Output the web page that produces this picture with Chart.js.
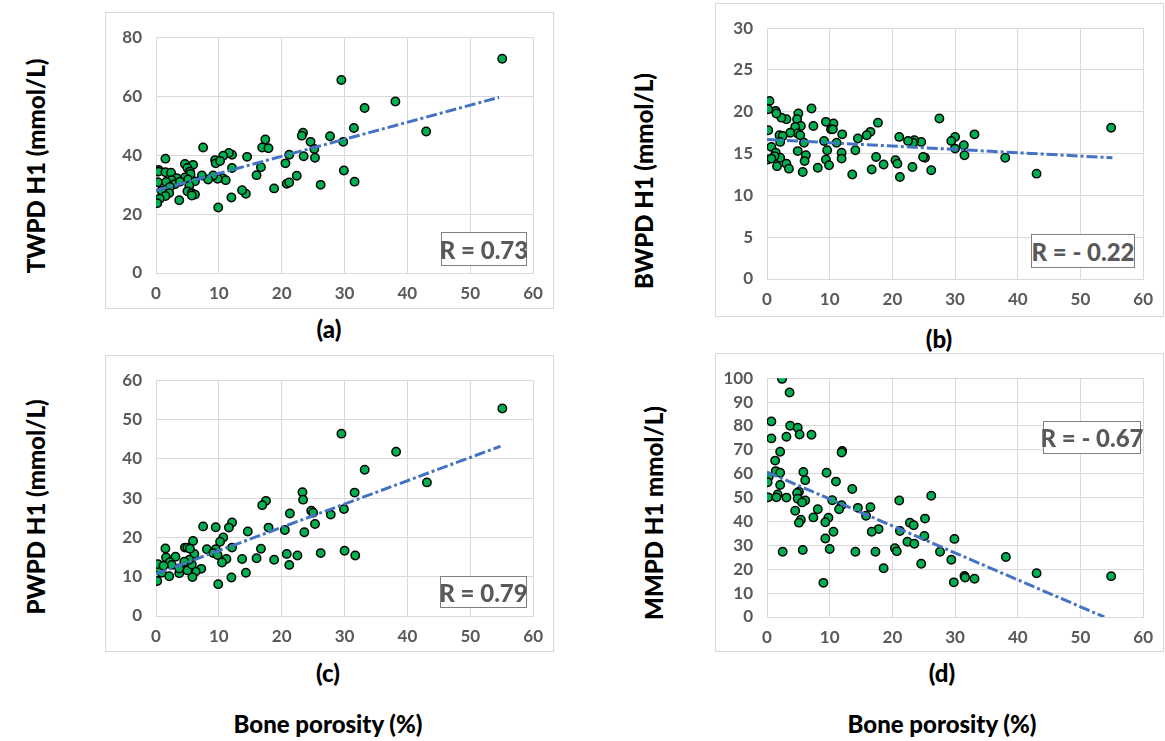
<!DOCTYPE html>
<html>
<head>
<meta charset="utf-8">
<script src="https://cdn.jsdelivr.net/npm/chart.js@4.4.1/dist/chart.umd.min.js"></script>
<style>
  body { margin: 0; background: #fff; width: 1165px; height: 741px; position: relative; overflow: hidden; font-family: Lato, sans-serif; }
  .box { position: absolute; border: 1px solid #d9d9d9; box-sizing: border-box; }
  .box canvas { position: absolute; left: 0; top: 0; }
  .ytitle { position: absolute; font-weight: 900; font-size: 24px; white-space: nowrap; color: #000; transform: translate(-50%, -50%) rotate(-90deg); }
  .lbl { position: absolute; font-weight: 900; font-size: 24px; white-space: nowrap; color: #000; transform: translate(-50%, -50%); }
  .rbox { position: absolute; border: 1.5px solid #7f7f7f; box-sizing: border-box; background: #fff; color: #595959; font-weight: 900; font-size: 24px; white-space: nowrap; display: flex; align-items: center; justify-content: center; }
</style>
</head>
<body>

<div class="ytitle" style="left:35px;top:166px">TWPD H1 (mmol/L)</div>
<div class="ytitle" style="left:643px;top:181px">BWPD H1 (mmol/L)</div>
<div class="ytitle" style="left:35px;top:507px">PWPD H1 (mmol/L)</div>
<div class="ytitle" style="left:653px;top:513px">MMPD H1 mmol/L)</div>

<div class="lbl" style="left:329px;top:328px">(a)</div>
<div class="lbl" style="left:939px;top:338px">(b)</div>
<div class="lbl" style="left:328px;top:672px">(c)</div>
<div class="lbl" style="left:942px;top:672px">(d)</div>
<div class="lbl" style="left:328px;top:723px">Bone porosity (%)</div>
<div class="lbl" style="left:942px;top:723px">Bone porosity (%)</div>

<script>
// (a) TWPD vs porosity
const porosityA = [55.1, 29.5, 38.1, 33.2, 43.0, 31.5, 27.7, 23.4, 23.2, 24.6, 25.2, 29.8, 25.3, 23.5, 21.2, 20.6, 29.9, 31.6, 26.2, 22.4,
  20.8, 21.2, 18.8, 17.4, 16.9, 17.9, 16.7, 16.0, 14.5, 14.3, 13.7, 12.0, 12.1, 11.6, 10.7, 9.4, 9.5, 10.2, 12.1, 10.6,
  11.1, 9.8, 9.9, 9.1, 8.3, 7.5, 7.3, 5.9, 4.6, 5.0, 5.4, 5.5, 4.6, 5.1, 6.2, 5.3, 5.0, 5.7, 6.2, 5.7,
  3.7, 1.5, 0.4, 0.4, 1.5, 2.4, 3.3, 2.5, 1.6, 0.3, 3.0, 2.2, 0.9, 2.1, 1.5, 0.6, 0.2, 3.8];
const twpd = [72.7, 65.5, 58.2, 56.0, 48.0, 49.2, 46.4, 47.6, 46.6, 44.5, 42.1, 44.5, 39.1, 39.6, 40.1, 37.2, 34.8, 31.0, 29.9, 33.0,
  30.3, 30.7, 28.7, 45.3, 42.6, 42.3, 35.9, 33.2, 39.4, 26.9, 28.1, 25.6, 40.1, 40.7, 39.8, 38.3, 37.2, 38.0, 35.6, 32.2,
  31.5, 32.0, 22.2, 33.1, 31.7, 42.6, 33.1, 36.7, 37.0, 35.6, 34.4, 33.6, 32.4, 31.7, 31.1, 29.6, 27.7, 27.1, 26.6, 26.3,
  24.7, 38.8, 35.0, 34.4, 34.2, 34.0, 32.2, 31.5, 30.9, 30.8, 30.1, 29.2, 27.9, 27.1, 26.1, 25.2, 23.7, 31.0];
const trendA = [[0, 28.0], [54.6, 59.6]];

// (b) BWPD vs porosity
const porosityB = [54.9, 43.0, 38.0, 33.1, 31.4, 31.5, 30.0, 29.4, 30.0, 27.5, 26.2, 25.2, 24.9, 24.6, 23.5, 23.3, 22.5, 23.2, 21.1, 21.2,
  20.5, 20.8, 18.6, 17.7, 16.5, 15.9, 14.5, 14.1, 17.4, 16.7, 13.6, 12.0, 11.9, 11.9, 10.6, 9.4, 10.2, 10.5, 11.1, 9.6,
  9.1, 9.4, 9.9, 8.1, 7.1, 7.4, 6.2, 6.0, 5.7, 5.0, 4.8, 5.4, 4.5, 4.9, 5.3, 5.9, 4.9, 3.7, 3.1, 2.3,
  1.4, 1.5, 0.4, 0.2, 0.2, 2.0, 2.5, 2.1, 0.7, 1.4, 2.1, 1.2, 0.1, 0.7, 1.6, 3.1, 3.5];
const bwpd = [18.1, 12.6, 14.5, 17.3, 16.0, 14.8, 17.0, 16.5, 15.6, 19.2, 13.0, 14.5, 14.6, 16.4, 16.6, 16.3, 16.5, 13.4, 17.0, 12.2,
  14.2, 13.8, 13.7, 18.7, 17.6, 17.2, 16.8, 15.4, 14.6, 13.1, 12.5, 17.3, 15.1, 14.4, 18.6, 18.8, 17.9, 17.9, 16.3, 15.4,
  16.5, 14.3, 13.6, 13.3, 20.4, 18.3, 14.8, 14.1, 12.8, 19.8, 19.1, 18.3, 18.2, 17.4, 17.2, 16.3, 15.3, 17.5, 19.1, 19.3,
  20.1, 19.8, 21.3, 20.3, 17.8, 17.2, 17.1, 16.4, 15.8, 15.1, 14.5, 14.7, 14.3, 14.4, 13.5, 13.8, 13.2];
const trendB = [[0, 16.7], [55.1, 14.5]];

// (c) PWPD vs porosity
const porosityC = [55.1, 29.5, 38.2, 33.2, 43.1, 31.6, 23.3, 23.4, 17.5, 16.9, 24.7, 25.0, 29.9, 27.8, 21.3, 25.3, 23.6, 20.5, 17.9, 14.6,
  12.1, 11.6, 9.5, 7.5, 10.7, 10.2, 5.9, 6.1, 4.6, 5.0, 5.4, 1.5, 8.1, 9.5, 9.1, 9.8, 12.1, 16.7, 16.0, 13.7,
  11.2, 10.5, 18.8, 20.8, 21.2, 22.5, 26.2, 30.0, 31.7, 14.3, 12.0, 9.9, 7.2, 6.3, 5.8, 5.2, 5.0, 5.7, 5.3, 3.1,
  1.6, 2.2, 2.5, 3.7, 2.1, 0.9, 0.4, 0.3, 1.2, 0.2, 3.7, 4.5];
const pwpd = [52.8, 46.4, 41.8, 37.2, 34.0, 31.4, 31.5, 29.6, 29.3, 28.2, 26.8, 26.3, 27.2, 25.8, 26.1, 23.4, 21.3, 21.9, 22.5, 21.5,
  23.8, 22.5, 22.6, 22.8, 20.0, 18.9, 19.1, 15.8, 17.4, 17.4, 17.1, 17.2, 17.0, 17.0, 16.0, 15.5, 17.4, 17.1, 14.7, 14.5,
  14.5, 13.6, 14.3, 15.8, 13.0, 15.4, 16.0, 16.6, 15.4, 11.0, 9.8, 8.1, 12.0, 11.3, 9.9, 12.0, 11.6, 13.1, 14.3, 15.1,
  14.9, 13.7, 13.0, 10.9, 10.1, 11.0, 12.1, 13.2, 12.8, 8.9, 12.1, 13.8];
const trendC = [[0, 10.7], [54.8, 43.2]];

// (d) MMPD vs porosity
const porosityD = [2.4, 3.6, 0.7, 3.7, 4.9, 5.2, 7.1, 0.7, 3.1, 2.1, 12.0, 11.9, 1.3, 1.4, 2.1, 5.8, 9.5, 0.3, 0.1, 2.1,
  6.1, 11.0, 13.6, 5.1, 4.8, 1.7, 0.2, 1.5, 3.1, 4.9, 6.1, 5.6, 10.4, 21.1, 26.2, 11.9, 11.5, 14.5, 16.5, 8.1,
  4.5, 15.8, 7.4, 9.8, 5.4, 5.1, 9.3, 25.2, 22.8, 23.4, 17.8, 16.7, 10.6, 21.2, 25.1, 29.9, 9.3, 22.4, 23.5, 20.4,
  20.7, 14.1, 17.3, 27.6, 2.5, 5.7, 10.0, 38.1, 29.4, 24.6, 18.6, 43.0, 54.9, 31.5, 31.6, 33.1, 29.8, 9.0];
const mmpd = [99.7, 94.0, 81.9, 80.1, 79.3, 76.4, 76.3, 74.8, 75.5, 69.2, 69.5, 68.9, 65.5, 61.1, 60.4, 60.7, 60.4, 58.8, 56.4, 55.3,
  57.3, 56.7, 53.6, 52.5, 51.9, 51.3, 50.1, 50.1, 50.0, 49.5, 48.8, 48.0, 48.9, 48.8, 50.8, 46.8, 45.1, 45.7, 46.0, 45.1,
  44.5, 42.4, 41.7, 41.6, 40.7, 39.5, 39.7, 41.2, 39.5, 38.4, 36.8, 35.7, 35.7, 36.0, 33.9, 32.7, 32.9, 31.5, 30.7, 28.8,
  27.5, 27.3, 27.3, 27.3, 27.3, 28.1, 28.5, 25.1, 24.0, 22.3, 20.4, 18.3, 17.1, 17.2, 16.5, 16.0, 14.5, 14.3];
const trendD = [[0, 60.7], [53.8, 0]];

const xTicks = [0, 10, 20, 30, 40, 50, 60];

function toPoints(xs, ys) {
  return xs.map((x, i) => ({ x: x, y: ys[i] }));
}

function makePanel(p) {
  const box = document.createElement('div');
  box.className = 'box';
  box.style.left = p.box.l + 'px';
  box.style.top = p.box.t + 'px';
  box.style.width = (p.box.r - p.box.l) + 'px';
  box.style.height = (p.box.b - p.box.t) + 'px';
  const canvas = document.createElement('canvas');
  const cw = p.box.r - p.box.l - 2;
  const ch = p.box.b - p.box.t - 2;
  canvas.width = cw;
  canvas.height = ch;
  canvas.style.width = cw + 'px';
  canvas.style.height = ch + 'px';
  box.appendChild(canvas);
  document.body.appendChild(box);

  const yAxisW = p.plot.l - (p.box.l + 1);
  const xAxisH = (p.box.b - 1) - p.plot.b;
  const tickFont = { family: 'Lato', weight: 'bold', size: 17 };

  new Chart(canvas, {
    type: 'scatter',
    data: {
      datasets: [
        {
          data: p.trend.map(t => ({ x: t[0], y: t[1] })),
          showLine: true,
          borderColor: '#4472C4',
          borderWidth: 3,
          borderDash: [11, 3, 3, 3],
          pointRadius: 0,
          fill: false
        },
        {
          data: toPoints(p.xs, p.ys),
          backgroundColor: '#00B050',
          borderColor: '#000000',
          borderWidth: 1.5,
          pointRadius: 4.2
        }
      ]
    },
    options: {
      responsive: false,
      animation: false,
      devicePixelRatio: 1,
      layout: {
        padding: { left: 0, top: p.plot.t - (p.box.t + 1), right: (p.box.r - 1) - p.plot.r, bottom: 0 }
      },
      plugins: { legend: { display: false }, tooltip: { enabled: false } },
      scales: {
        x: {
          type: 'linear',
          min: 0,
          max: 60,
          afterFit(s) { s.height = xAxisH; },
          afterBuildTicks(s) { s.ticks = xTicks.map(v => ({ value: v })); },
          grid: { color: '#d9d9d9', drawTicks: false },
          border: { color: '#d9d9d9' },
          ticks: { font: tickFont, color: '#595959', padding: 10, maxRotation: 0 }
        },
        y: {
          type: 'linear',
          min: 0,
          max: p.ymax,
          afterFit(s) { s.width = yAxisW; },
          afterBuildTicks(s) { s.ticks = p.yTicks.map(v => ({ value: v })); },
          grid: { color: '#d9d9d9', drawTicks: false },
          border: { color: '#d9d9d9' },
          ticks: { font: tickFont, color: '#595959', padding: 14 }
        }
      }
    }
  });

  const r = document.createElement('div');
  r.className = 'rbox';
  r.style.left = p.rbox.l + 'px';
  r.style.top = p.rbox.t + 'px';
  r.style.width = (p.rbox.r - p.rbox.l) + 'px';
  r.style.height = (p.rbox.b - p.rbox.t) + 'px';
  r.textContent = p.rText;
  document.body.appendChild(r);
}

makePanel({
  box: { l: 105, t: 12, r: 554, b: 309 }, plot: { l: 156, t: 25, r: 533, b: 273 },
  ymax: 80, yTicks: [0, 20, 40, 60, 80], xs: porosityA, ys: twpd, trend: trendA,
  rbox: { l: 441, t: 232, r: 527, b: 266 }, rText: 'R = 0.73'
});
makePanel({
  box: { l: 715, t: 3, r: 1164, b: 317 }, plot: { l: 767, t: 16, r: 1144, b: 279 },
  ymax: 30, yTicks: [0, 5, 10, 15, 20, 25, 30], xs: porosityB, ys: bwpd, trend: trendB,
  rbox: { l: 1031, t: 234, r: 1135, b: 268 }, rText: 'R = - 0.22'
});
makePanel({
  box: { l: 105, t: 355, r: 554, b: 652 }, plot: { l: 156, t: 368, r: 534, b: 616 },
  ymax: 60, yTicks: [0, 10, 20, 30, 40, 50, 60], xs: porosityC, ys: pwpd, trend: trendC,
  rbox: { l: 440, t: 576, r: 527, b: 608 }, rText: 'R = 0.79'
});
makePanel({
  box: { l: 715, t: 353, r: 1164, b: 652 }, plot: { l: 767, t: 367, r: 1144, b: 617 },
  ymax: 100, yTicks: [0, 10, 20, 30, 40, 50, 60, 70, 80, 90, 100], xs: porosityD, ys: mmpd, trend: trendD,
  rbox: { l: 1043, t: 421, r: 1141, b: 454 }, rText: 'R = - 0.67'
});
</script>
</body>
</html>
